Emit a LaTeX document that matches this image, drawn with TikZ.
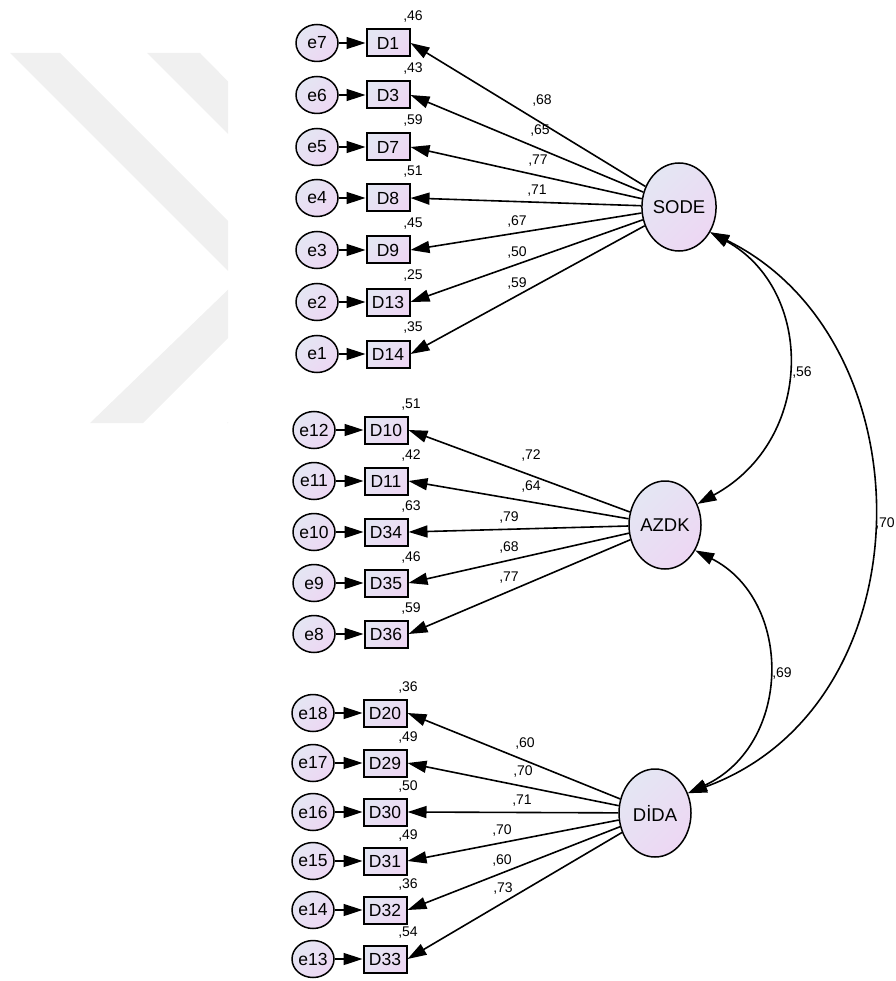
\documentclass[tikz,border=0pt]{standalone}
\usepackage{fontspec}
\setmainfont{Liberation Sans}
\usetikzlibrary{shapes.geometric,arrows.meta,calc}
\definecolor{shA}{RGB}{228,230,243}
\definecolor{shB}{RGB}{237,215,243}
\definecolor{wm}{RGB}{240,240,240}
\tikzset{
 sh/.style={top color=shA, bottom color=shB, shading angle=45},
 errnode/.style={ellipse, draw, line width=1.5pt, sh, minimum width=42pt, minimum height=37pt, inner sep=0pt, font=\fontsize{17.5}{17.5}\selectfont},
 indnode/.style={rectangle, draw, line width=2pt, sh, minimum width=43pt, minimum height=27pt, inner sep=1pt, font=\fontsize{17.5}{17.5}\selectfont},
 latnode/.style={ellipse, draw, line width=1.5pt, sh, minimum width=72pt, minimum height=88pt, inner sep=0pt, font=\fontsize{18.5}{18.5}\selectfont},
 arr/.style={line width=1.6pt, -{Triangle[length=19pt,width=12pt]}},
 cov/.style={line width=1.6pt, {Triangle[length=19pt,width=12pt]}-{Triangle[length=19pt,width=12pt]}},
 lbl/.style={font=\fontsize{14}{14}\selectfont, inner sep=0pt},
}
\begin{document}
\begin{tikzpicture}[x=1pt,y=-1pt]
\useasboundingbox (0,0) rectangle (895,981);
% watermark
\begin{scope}
\clip (0,0) rectangle (228,981);
\fill[wm] (10,53) -- (60,53) -- (286.5,279.5) -- (143,423) -- (90,423) -- (237.5,280.5) -- cycle;
\fill[wm] (147,53) -- (200,53) -- (423.5,279.5) -- (280,423) -- (227,423) -- (374.5,280.5) -- cycle;
\end{scope}
% latent variables
\node[latnode] (SODE) at (679,207) {SODE};
\node[latnode] (AZDK) at (665,525) {AZDK};
\node[latnode] (DIDA) at (655,813) {DİDA};
% group 1
\foreach \n/\e/\y/\r/\l/\lx/\ly in {D1/e7/43/46/68/542/101, D3/e6/95/43/65/540/131, D7/e5/147/59/77/538/161, D8/e4/198/51/71/537/191, D9/e3/250/45/67/517/222, D13/e2/302/25/50/517/253, D14/e1/354/35/59/517/284}{
 \node[indnode] (\n) at (388,\y) {\n};
 \node[errnode] (\e) at (317,\y) {\e};
 \draw[arr] (\e) -- (\n);
 \draw[arr] (SODE) -- (\n.east);
 \node[lbl] at (413,\y-26) {,\r};
 \node[lbl] at (\lx,\ly) {,\l};
}
% group 2
\foreach \n/\e/\y/\r/\l/\lx/\ly in {D10/e12/430/51/72/531/456, D11/e11/481/42/64/531/487, D34/e10/532/63/79/509/518, D35/e9/583/46/68/509/548, D36/e8/634/59/77/509/578}{
 \node[indnode] (\n) at (386,\y) {\n};
 \node[errnode] (\e) at (314,\y) {\e};
 \draw[arr] (\e) -- (\n);
 \draw[arr] (AZDK) -- (\n.east);
 \node[lbl] at (411,\y-25) {,\r};
 \node[lbl] at (\lx,\ly) {,\l};
}
% group 3
\foreach \n/\e/\y/\r/\l/\lx/\ly in {D20/e18/713/36/60/525/743, D29/e17/763/49/70/523/771, D30/e16/812/50/71/522/801, D31/e15/861/49/70/502/830, D32/e14/910/36/60/502/860, D33/e13/959/54/73/503/888}{
 \node[indnode] (\n) at (385,\y) {\n};
 \node[errnode] (\e) at (313,\y) {\e};
 \draw[arr] (\e) -- (\n);
 \draw[arr] (DIDA) -- (\n.east);
 \node[lbl] at (408,\y-26) {,\r};
 \node[lbl] at (\lx,\ly) {,\l};
}
% covariances
\draw[cov] (SODE.-39) .. controls (815,290) and (815,440) .. (AZDK.33);
\draw[cov] (AZDK.-40) .. controls (793,600) and (793,744) .. (DIDA.31);
\draw[cov] (SODE.-39) .. controls (930,340) and (930,705) .. (DIDA.31);
\node[lbl] at (802,373) {,56};
\node[lbl] at (782,674) {,69};
\node[lbl] at (885,524) {,70};
\end{tikzpicture}
\end{document}
